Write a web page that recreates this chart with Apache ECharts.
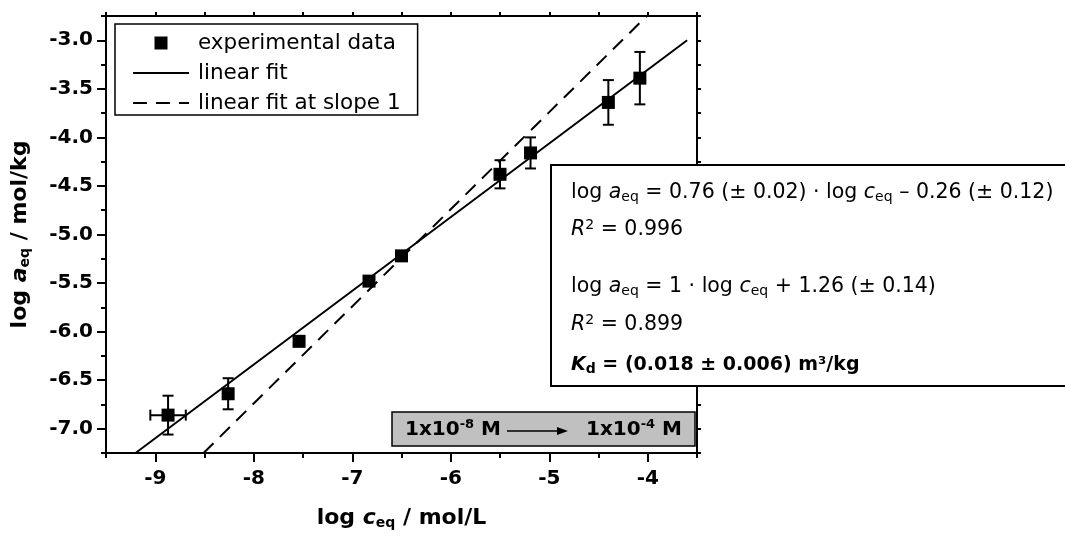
<!DOCTYPE html>
<html>
<head>
<meta charset="utf-8">
<script src="https://cdn.jsdelivr.net/npm/echarts@6/dist/echarts.min.js"></script>
<style>
  html, body { margin: 0; padding: 0; background: #fff; }
  #chart { width: 1065px; height: 537px; }
</style>
</head>
<body>
<div id="chart"></div>
<script>
// sorption data: log c_eq (mol/L) vs log a_eq (mol/kg)
var logC = [-8.87, -8.26, -7.54, -6.83, -6.50, -5.50, -5.19, -4.40, -4.08];
var logA = [-6.86, -6.64, -6.10, -5.48, -5.22, -4.38, -4.16, -3.64, -3.39];
var errA = [0.20, 0.16, 0.05, 0.05, 0.05, 0.145, 0.16, 0.23, 0.27];
var errC = [0.18, 0, 0, 0, 0, 0, 0, 0, 0];

// fit lines (end points)
var fitC = [-9.2, -3.6];
var fitA = [-7.25, -3.0];
var slope1C = [-8.51, -4.01];
var slope1A = [-7.25, -2.75];

var xTickLabels = [-9, -8, -7, -6, -5, -4];
var yTickLabels = [-7.0, -6.5, -6.0, -5.5, -5.0, -4.5, -4.0, -3.5, -3.0];

var FONT = 'DejaVu Sans';
var BLACK = '#000';

var chart = echarts.init(document.getElementById('chart'));

function txt(size, weight, style, extra) {
    var o = { fontFamily: FONT, fontSize: size, fontWeight: weight || 'normal', fontStyle: style || 'normal', color: BLACK, fill: BLACK };
    if (extra) for (var k in extra) o[k] = extra[k];
    return o;
}

var xRange = { min: -9.5, max: -3.5 };
var yRange = { min: -7.25, max: -2.75 };
var lineStyleAxis = { color: BLACK, width: 2 };

var option = {
    animation: false,
    backgroundColor: '#fff',
    grid: { left: 106, top: 16, width: 591, height: 437, containLabel: false },
    legend: {
        orient: 'vertical',
        left: 115,
        top: 24,
        padding: [8, 17, 1, 17],
        itemWidth: 56,
        itemHeight: 13,
        itemGap: 8,
        borderColor: BLACK,
        borderWidth: 1.5,
        backgroundColor: '#fff',
        selectedMode: false,
        textStyle: { fontFamily: FONT, fontSize: 21.5, color: BLACK, padding: [0, 0, 0, 4] },
        data: [
            { name: 'experimental data', icon: 'path://M0,0L10,0L10,10L0,10Z', symbolKeepAspect: true, itemStyle: { opacity: 1 } },
            { name: 'linear fit', itemStyle: { color: 'rgba(0,0,0,0)', borderWidth: 0 } },
            { name: 'linear fit at slope 1', itemStyle: { color: 'rgba(0,0,0,0)', borderWidth: 0 } }
        ]
    },
    xAxis: [
        {
            type: 'value', position: 'bottom', min: xRange.min, max: xRange.max, interval: 0.5,
            axisLine: { show: true, onZero: false, lineStyle: lineStyleAxis },
            axisTick: { show: true, length: 5, lineStyle: { color: BLACK, width: 2 } },
            axisLabel: {
                customValues: xTickLabels,
                formatter: function (v) { return String(v); },
                fontFamily: FONT, fontSize: 20, fontWeight: 'bold', color: BLACK, margin: 16
            },
            splitLine: { show: false },
            name: '{b|log }{bi|c}{sub|eq}{b| / mol/L}',
            nameLocation: 'middle',
            nameGap: 54,
            nameTextStyle: {
                rich: {
                    b: txt(22, 'bold'),
                    bi: txt(22, 'bold', 'italic'),
                    sub: txt(14, 'bold', 'normal', { padding: [9, 0, 0, 0] })
                }
            }
        },
        {
            type: 'value', position: 'bottom', min: xRange.min, max: xRange.max,
            axisLine: { show: false },
            axisTick: { show: true, customValues: xTickLabels, length: 9, lineStyle: { color: BLACK, width: 2 } },
            axisLabel: { show: false },
            splitLine: { show: false }
        },
        {
            type: 'value', position: 'top', min: xRange.min, max: xRange.max, interval: 0.5,
            axisLine: { show: true, onZero: false, lineStyle: lineStyleAxis },
            axisTick: { show: true, length: 4, lineStyle: { color: BLACK, width: 2 } },
            axisLabel: { show: false },
            splitLine: { show: false }
        }
    ],
    yAxis: [
        {
            type: 'value', position: 'left', min: yRange.min, max: yRange.max, interval: 0.25,
            axisLine: { show: true, onZero: false, lineStyle: lineStyleAxis },
            axisTick: { show: true, length: 5, lineStyle: { color: BLACK, width: 2 } },
            axisLabel: {
                customValues: yTickLabels,
                formatter: function (v) { return v.toFixed(1); },
                fontFamily: FONT, fontSize: 20, fontWeight: 'bold', color: BLACK, margin: 13
            },
            splitLine: { show: false },
            name: '{b|log }{bi|a}{sub|eq}{b| / mol/kg}',
            nameLocation: 'middle',
            nameRotate: 90,
            nameGap: 74,
            nameTextStyle: {
                rich: {
                    b: txt(22, 'bold'),
                    bi: txt(22, 'bold', 'italic'),
                    sub: txt(14, 'bold', 'normal', { padding: [9, 0, 0, 0] })
                }
            }
        },
        {
            type: 'value', position: 'left', min: yRange.min, max: yRange.max,
            axisLine: { show: false },
            axisTick: { show: true, customValues: yTickLabels, length: 9, lineStyle: { color: BLACK, width: 2 } },
            axisLabel: { show: false },
            splitLine: { show: false }
        },
        {
            type: 'value', position: 'right', min: yRange.min, max: yRange.max, interval: 0.25,
            axisLine: { show: true, onZero: false, lineStyle: lineStyleAxis },
            axisTick: { show: true, length: 4, lineStyle: { color: BLACK, width: 2 } },
            axisLabel: { show: false },
            splitLine: { show: false }
        }
    ],
    series: [
        {
            name: 'linear fit',
            type: 'line',
            data: fitC.map(function (c, i) { return [c, fitA[i]]; }),
            symbol: 'none',
            lineStyle: { color: BLACK, width: 2 },
            itemStyle: { color: BLACK },
            z: 2
        },
        {
            name: 'linear fit at slope 1',
            type: 'line',
            data: slope1C.map(function (c, i) { return [c, slope1A[i]]; }),
            symbol: 'none',
            lineStyle: { color: BLACK, width: 2, type: [14, 9] },
            itemStyle: { color: BLACK },
            z: 2
        },
        {
            name: 'error bars',
            type: 'custom',
            data: logC.map(function (c, i) { return [c, logA[i], errA[i], errC[i]]; }),
            encode: { x: 0, y: 1 },
            z: 3,
            renderItem: function (params, api) {
                var x = api.value(0), y = api.value(1), ey = api.value(2), ex = api.value(3);
                var top = api.coord([x, y + ey]);
                var bot = api.coord([x, y - ey]);
                var cap = 5.5;
                var st = { stroke: BLACK, lineWidth: 2 };
                var kids = [
                    { type: 'line', shape: { x1: top[0], y1: top[1], x2: bot[0], y2: bot[1] }, style: st },
                    { type: 'line', shape: { x1: top[0] - cap, y1: top[1], x2: top[0] + cap, y2: top[1] }, style: st },
                    { type: 'line', shape: { x1: bot[0] - cap, y1: bot[1], x2: bot[0] + cap, y2: bot[1] }, style: st }
                ];
                if (ex > 0) {
                    var l = api.coord([x - ex, y]);
                    var r = api.coord([x + ex, y]);
                    kids.push({ type: 'line', shape: { x1: l[0], y1: l[1], x2: r[0], y2: r[1] }, style: st });
                    kids.push({ type: 'line', shape: { x1: l[0], y1: l[1] - cap, x2: l[0], y2: l[1] + cap }, style: st });
                    kids.push({ type: 'line', shape: { x1: r[0], y1: r[1] - cap, x2: r[0], y2: r[1] + cap }, style: st });
                }
                return { type: 'group', children: kids };
            }
        },
        {
            name: 'experimental data',
            type: 'scatter',
            data: logC.map(function (c, i) { return [c, logA[i]]; }),
            symbol: 'rect',
            symbolSize: 13,
            itemStyle: { color: BLACK, opacity: 1 },
            z: 4
        }
    ],
    graphic: [
        // concentration range box
        {
            type: 'rect', z: 50,
            shape: { x: 392, y: 412, width: 303, height: 34 },
            style: { fill: '#c0c0c0', stroke: BLACK, lineWidth: 1.5 }
        },
        {
            type: 'text', z: 51, x: 405, y: 430,
            style: {
                text: '{b|1x10}{sup|-8}{b| M}', align: 'left', verticalAlign: 'middle',
                rich: { b: txt(20, 'bold'), sup: txt(13, 'bold', 'normal', { padding: [0, 0, 11, 0] }) }
            }
        },
        {
            type: 'text', z: 51, x: 682, y: 430,
            style: {
                text: '{b|1x10}{sup|-4}{b| M}', align: 'right', verticalAlign: 'middle',
                rich: { b: txt(20, 'bold'), sup: txt(13, 'bold', 'normal', { padding: [0, 0, 11, 0] }) }
            }
        },
        {
            type: 'line', z: 51,
            shape: { x1: 507, y1: 431, x2: 560, y2: 431 },
            style: { stroke: BLACK, lineWidth: 1.5 }
        },
        {
            type: 'polygon', z: 51,
            shape: { points: [[568, 431], [557, 427], [557, 435]] },
            style: { fill: BLACK }
        },
        // fit equations box
        {
            type: 'rect', z: 100,
            shape: { x: 551, y: 165, width: 560, height: 221 },
            style: { fill: '#fff', stroke: BLACK, lineWidth: 2 }
        },
        {
            type: 'text', z: 101, x: 571, y: 193,
            style: {
                text: '{n|log }{i|a}{sub|eq}{n| = 0.76 (± 0.02) · log }{i|c}{sub|eq}{n| – 0.26 (± 0.12)}',
                verticalAlign: 'middle',
                rich: { n: txt(20.5), i: txt(20.5, 'normal', 'italic'), sub: txt(14, 'normal', 'normal', { padding: [9, 0, 0, 0] }) }
            }
        },
        {
            type: 'text', z: 101, x: 571, y: 230,
            style: {
                text: '{i|R}{sup|2}{n| = 0.996}',
                verticalAlign: 'middle',
                rich: { n: txt(20.5), i: txt(20.5, 'normal', 'italic'), sup: txt(14, 'normal', 'normal', { padding: [0, 0, 9, 0] }) }
            }
        },
        {
            type: 'text', z: 101, x: 571, y: 287,
            style: {
                text: '{n|log }{i|a}{sub|eq}{n| = 1 · log }{i|c}{sub|eq}{n| + 1.26 (± 0.14)}',
                verticalAlign: 'middle',
                rich: { n: txt(20.5), i: txt(20.5, 'normal', 'italic'), sub: txt(14, 'normal', 'normal', { padding: [9, 0, 0, 0] }) }
            }
        },
        {
            type: 'text', z: 101, x: 571, y: 325,
            style: {
                text: '{i|R}{sup|2}{n| = 0.899}',
                verticalAlign: 'middle',
                rich: { n: txt(20.5), i: txt(20.5, 'normal', 'italic'), sup: txt(14, 'normal', 'normal', { padding: [0, 0, 9, 0] }) }
            }
        },
        {
            type: 'text', z: 101, x: 571, y: 365,
            style: {
                text: '{i|K}{sub|d}{n| = (0.018 ± 0.006) m³/kg}',
                verticalAlign: 'middle',
                rich: { n: txt(19, 'bold'), i: txt(19, 'bold', 'italic'), sub: txt(14, 'bold', 'normal', { padding: [9, 0, 0, 0] }) }
            }
        }
    ]
};

chart.setOption(option);
</script>
</body>
</html>
